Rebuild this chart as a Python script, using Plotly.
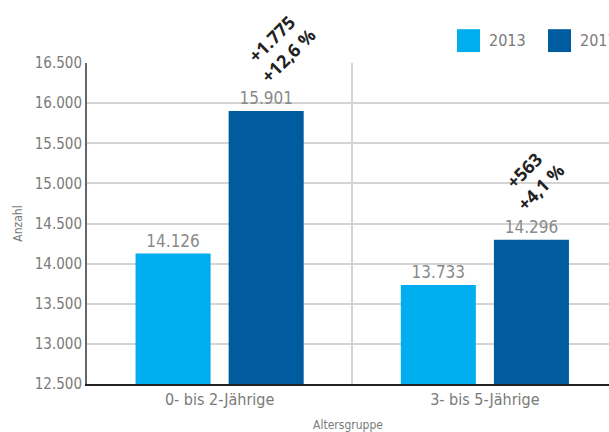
import plotly.graph_objects as go

# Kinder nach Altersgruppe, 2013 vs. 2017
categories = ["0- bis 2-Jährige", "3- bis 5-Jährige"]
years = ["2013", "2017"]
values_2013 = [14126, 13733]
values_2017 = [15901, 14296]
change_abs = ["+1.775", "+563"]
change_pct = ["+12,6 %", "+4,1 %"]
y_ticks = [12500, 13000, 13500, 14000, 14500, 15000, 15500, 16000, 16500]

colors = {"2013": "#00AEEF", "2017": "#005B9F"}
FONT = "Liberation Sans Narrow, DejaVu Sans Condensed, Roboto, sans-serif"
GRAY = "#7a7a7a"

fig = go.Figure()
for year, vals in zip(years, [values_2013, values_2017]):
    fig.add_trace(go.Bar(
        x=categories, y=vals, name=year,
        marker=dict(color=colors[year], line=dict(width=0)),
        text=vals, texttemplate="%{y:,}", textposition="outside",
        textfont=dict(family=FONT, size=17, color="#8a8a8a"),
        cliponaxis=False, showlegend=False,
    ))

# change labels above the 2017 bars (rotated), per-group fine offsets
offset = 0.175
label_shift = [(13, 64), (1, 61)]
for i, (a, p) in enumerate(zip(change_abs, change_pct)):
    dx, dy = label_shift[i]
    fig.add_annotation(
        x=i + offset, y=values_2017[i], xref="x", yref="y",
        text=f"<b>{a}<br>{p}</b>", showarrow=False, textangle=-45,
        font=dict(family="Open Sans, sans-serif", size=18, color="#222222"),
        xshift=dx, yshift=dy,
    )

# legend: large square swatches with year labels, top right
legend_x = [0.7088, 0.8831]
sw_w, sw_y0, sw_y1 = 0.0441, 1.0341, 1.1053
for year, lx in zip(years, legend_x):
    fig.add_shape(type="rect", xref="paper", yref="paper",
                  x0=lx, x1=lx + sw_w, y0=sw_y0, y1=sw_y1,
                  fillcolor=colors[year], line=dict(width=0))
    fig.add_annotation(x=lx + sw_w + 0.013, y=(sw_y0 + sw_y1) / 2,
                       xref="paper", yref="paper", xanchor="left", yanchor="middle",
                       text=year, showarrow=False,
                       font=dict(family=FONT, size=16, color=GRAY))

fig.update_layout(
    width=609, height=432,
    margin=dict(l=87, r=0, t=63, b=46),
    paper_bgcolor="white", plot_bgcolor="white",
    barmode="group", bargap=0.298, bargroupgap=0.194,
    separators=",.",
    font=dict(family=FONT, color=GRAY),
    showlegend=False,
    xaxis=dict(
        type="category", range=[-0.5, 1.468],
        tickson="boundaries", showgrid=True, gridcolor="#d4d4d4", gridwidth=2,
        ticks="", showline=True, linecolor="#222222", linewidth=2,
        tickfont=dict(family=FONT, size=16, color=GRAY),
        title=dict(text="Altersgruppe", font=dict(family=FONT, size=12, color=GRAY), standoff=14),
    ),
    yaxis=dict(
        range=[12500, 16500], tickvals=y_ticks, tickformat=",",
        showgrid=True, gridcolor="#d4d4d4", gridwidth=2,
        showline=True, linecolor="#666666", linewidth=2, ticks="",
        zeroline=False,
        tickfont=dict(family=FONT, size=15, color=GRAY),
        title=dict(text="Anzahl", font=dict(family=FONT, size=12, color=GRAY), standoff=10),
    ),
)

fig.write_html("out.html")
